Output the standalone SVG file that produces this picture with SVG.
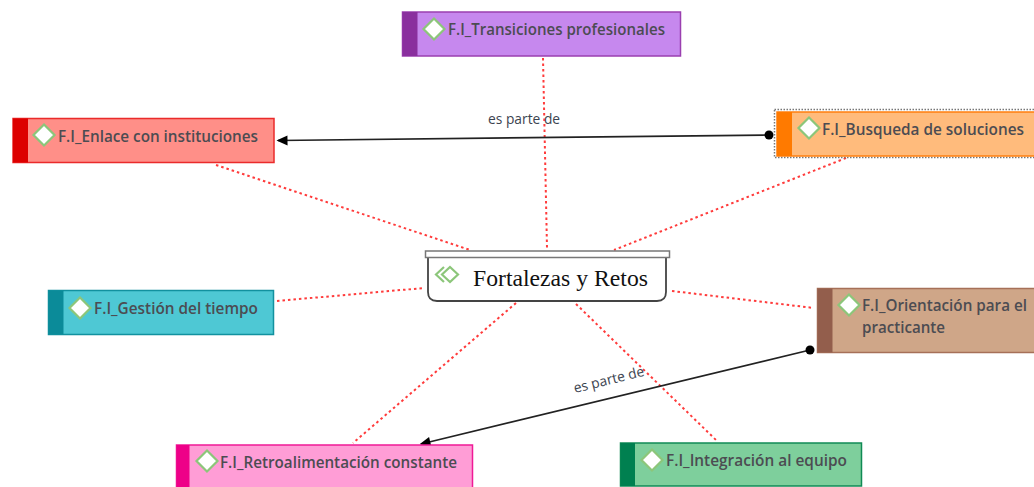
<svg xmlns="http://www.w3.org/2000/svg" width="1034" height="487" viewBox="0 0 1034 487">
<style>
text{font-family:"Open Sans","Noto Sans","Liberation Sans",sans-serif;font-size:15.5px;font-weight:600;fill:#4c4c52;lengthAdjust:spacingAndGlyphs}
.d{fill:#fff;stroke:#8cc67a;stroke-width:2.200}
.r{fill:none;stroke:#ff3b3b;stroke-width:2;stroke-dasharray:2.500 3}
.a{fill:none;stroke:#222;stroke-width:1.700}
.l{font-size:13.800px;font-weight:400;fill:#3c4450}
</style>
<defs>
<marker id="ah" markerWidth="12" markerHeight="12" refX="10.500" refY="6" orient="auto" markerUnits="userSpaceOnUse"><path d="M11 1V11L0 6Z" fill="#000" transform="rotate(180 6 6)"/></marker>
<marker id="dot" markerWidth="10" markerHeight="10" refX="5" refY="5" markerUnits="userSpaceOnUse"><circle cx="5" cy="5" r="4.500" fill="#000"/></marker>
</defs>
<rect width="1034" height="487" fill="#fff"/>
<g id="connectors">
<path class="r" d="M543 58L547 248"/>
<path class="r" d="M216 165L470 250"/>
<path class="r" d="M846 158L614 250"/>
<path class="r" d="M277 301L424 288"/>
<path class="r" d="M672 291L814 308"/>
<path class="r" d="M516 303L353 443"/>
<path class="r" d="M576 304L716 440"/>
<path class="a" d="M769 135L278 140.500" marker-start="url(#dot)" marker-end="url(#ah)"/>
<path class="a" d="M810 350L421 444" marker-start="url(#dot)" marker-end="url(#ah)"/>
<text class="l" x="488" y="124">es parte de</text>
<text class="l" transform="translate(575 393) rotate(-14)">es parte de</text>
</g>
<g id="n-transiciones">
<rect x="402.500" y="12" width="278" height="44" fill="#c688ee" stroke="#9a3fb0" stroke-width="1.500"/>
<rect x="402.500" y="12" width="15" height="44" fill="#8a2f9e"/>
<path class="d" d="M434 18.500L444.500 29L434 39.500L423.500 29Z"/>
<text x="448" y="35" textLength="217" lengthAdjust="spacingAndGlyphs">F.I_Transiciones profesionales</text>
</g>
<g id="n-enlace">
<rect x="13" y="118.500" width="261" height="44" fill="#ff8f88" stroke="#ea2b2b" stroke-width="1.500"/>
<rect x="13" y="118.500" width="15" height="44" fill="#dd0000"/>
<path class="d" d="M44 124.500L54.500 135L44 145.500L33.500 135Z"/>
<text x="58" y="142" textLength="200" lengthAdjust="spacingAndGlyphs">F.I_Enlace con instituciones</text>
</g>
<g id="n-busqueda">
<rect x="774.500" y="109.500" width="262" height="48" fill="none" stroke="#777" stroke-width="1.500" stroke-dasharray="1.500 1.500"/>
<rect x="777" y="112" width="260" height="44" fill="#ffbb7c" stroke="#ff7f0e" stroke-width="1.500"/>
<rect x="777" y="112" width="15" height="44" fill="#ff7a00"/>
<path class="d" d="M809 117.500L819.500 128L809 138.500L798.500 128Z"/>
<text x="822" y="135" textLength="202" lengthAdjust="spacingAndGlyphs">F.I_Busqueda de soluciones</text>
</g>
<g id="n-central">
<path d="M428 256V292Q428 301 437 301H657Q666 301 666 292V256" fill="#fff" stroke="#444" stroke-width="1.800"/>
<rect x="425.500" y="251" width="244" height="6.500" fill="#fff" stroke="#777" stroke-width="1.500"/>
<path d="M444 267L436 274.500L444 282M450 267L458 274.500L450 282L442 274.500Z" fill="none" stroke="#8cc67a" stroke-width="2.200"/>
<text x="473" y="286" style="font-family:'Liberation Serif',serif;font-size:23.700px;font-weight:400;fill:#111">Fortalezas y Retos</text>
</g>
<g id="n-gestion">
<rect x="48.500" y="290.500" width="225" height="44" fill="#4ec8d4" stroke="#12919f" stroke-width="1.500"/>
<rect x="48.500" y="290.500" width="15" height="44" fill="#0b8b99"/>
<path class="d" d="M80 297.500L90.500 308L80 318.500L69.500 308Z"/>
<text x="94" y="314" textLength="164" lengthAdjust="spacingAndGlyphs">F.I_Gestión del tiempo</text>
</g>
<g id="n-orientacion">
<rect x="817.500" y="288.500" width="218" height="64" fill="#cfa688" stroke="#a67058" stroke-width="1.500"/>
<rect x="817.500" y="288.500" width="15" height="64" fill="#935e4c"/>
<path class="d" d="M849 294.500L859.500 305L849 315.500L838.500 305Z"/>
<text x="862" y="311" textLength="165" lengthAdjust="spacingAndGlyphs">F.I_Orientación para el</text>
<text x="862" y="333" textLength="83" lengthAdjust="spacingAndGlyphs">practicante</text>
</g>
<g id="n-retro">
<rect x="176.500" y="445" width="296" height="44" fill="#ff9dd6" stroke="#ef1a96" stroke-width="1.500"/>
<rect x="176.500" y="445" width="13" height="44" fill="#ee0088"/>
<path class="d" d="M207 450.500L217.500 461L207 471.500L196.500 461Z"/>
<text x="220" y="468" textLength="237" lengthAdjust="spacingAndGlyphs">F.I_Retroalimentación constante</text>
</g>
<g id="n-integracion">
<rect x="620.500" y="443" width="241" height="43" fill="#7ecf9c" stroke="#108a55" stroke-width="1.500"/>
<rect x="620.500" y="443" width="14.500" height="43" fill="#008050"/>
<path class="d" d="M652 449.500L662.500 460L652 470.500L641.500 460Z"/>
<text x="666" y="466" textLength="181" lengthAdjust="spacingAndGlyphs">F.I_Integración al equipo</text>
</g>
</svg>
